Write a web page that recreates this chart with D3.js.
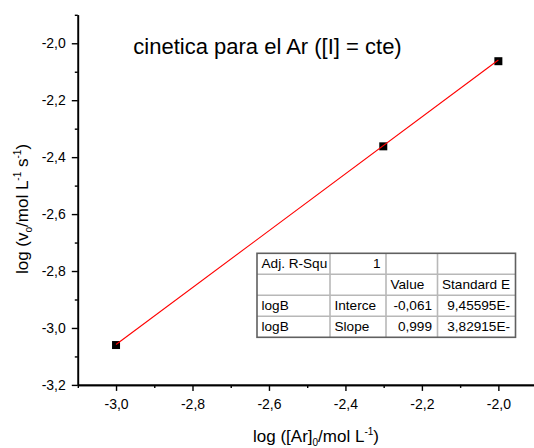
<!DOCTYPE html>
<html>
<head>
<meta charset="utf-8">
<script src="https://cdn.jsdelivr.net/npm/d3@7"></script>
<style>
  html, body { margin: 0; padding: 0; background: #fff; }
  svg { display: block; font-family: "Liberation Sans", Arial, sans-serif; }
</style>
</head>
<body>
<svg id="chart" width="534" height="448"></svg>
<script>
// measured points: log [Ar]0 vs log v0
const logAr = [-3.0, -2.301, -2.0];
const logV = [-3.06, -2.362, -2.063];

// linear fit drawn by Origin (start / end of the red line)
const fitX = [-3.0, -2.0];
const fitY = [-3.058, -2.059];

const xMajor = [-3.0, -2.8, -2.6, -2.4, -2.2, -2.0];
const xMinor = [-3.1, -2.9, -2.7, -2.5, -2.3, -2.1, -1.9];
const yMajor = [-3.2, -3.0, -2.8, -2.6, -2.4, -2.2, -2.0];
const yMinor = [-3.1, -2.9, -2.7, -2.5, -2.3, -2.1, -1.9];

// fit results table
const tableCols = [257, 330, 386, 437.5, 515.5];
const tableRows = [
  ['Adj. R-Squ', '1', '', ''],
  ['', '', 'Value', 'Standard E'],
  ['logB', 'Interce', '-0,061', '9,45595E-'],
  ['logB', 'Slope', '0,999', '3,82915E-']
];

const svg = d3.select('#chart');

const locale = d3.formatLocale({
  decimal: ',', thousands: '.', grouping: [3], currency: ['', ''], minus: '-'
});
const fmt = locale.format('.1f');

const x = d3.scaleLinear().domain([-3.1, -1.9]).range([77.8, 536.6]);
const y = d3.scaleLinear().domain([-3.2, -1.9]).range([384.9, 14.8]);

// axes
const xAxis = svg.append('g').attr('transform', 'translate(0,384.9)');
xAxis.call(d3.axisBottom(x).tickValues(xMajor).tickSize(6).tickSizeOuter(0)
  .tickPadding(8.5).tickFormat(fmt));
xAxis.call(g => g.append('g').call(d3.axisBottom(x).tickValues(xMinor)
  .tickSize(3).tickSizeOuter(0).tickFormat('')));

const yAxis = svg.append('g').attr('transform', 'translate(77.8,0)');
yAxis.call(d3.axisLeft(y).tickValues(yMajor).tickSize(6).tickSizeOuter(0)
  .tickPadding(6).tickFormat(fmt));
yAxis.call(g => g.append('g').call(d3.axisLeft(y).tickValues(yMinor)
  .tickSize(3).tickSizeOuter(0).tickFormat('')));

svg.selectAll('.domain').attr('stroke', '#000').attr('stroke-width', 1.6);
svg.selectAll('.tick line').attr('stroke', '#000').attr('stroke-width', 1.4);
svg.selectAll('.tick text')
  .attr('fill', '#000')
  .style('font-family', '"Liberation Sans", Arial, sans-serif')
  .style('font-size', '14px');

// data markers
svg.append('g').selectAll('rect')
  .data(logAr)
  .join('rect')
  .attr('x', (d) => x(d) - 4)
  .attr('y', (d, i) => y(logV[i]) - 4)
  .attr('width', 8)
  .attr('height', 8)
  .attr('fill', '#000');

// fit line
svg.append('path')
  .datum(fitX.map((d, i) => [d, fitY[i]]))
  .attr('fill', 'none')
  .attr('stroke', '#ff0000')
  .attr('stroke-width', 1.1)
  .attr('d', d3.line().x((d) => x(d[0])).y((d) => y(d[1])));

// title
svg.append('text')
  .attr('x', 267.5)
  .attr('y', 54.3)
  .attr('text-anchor', 'middle')
  .style('font-size', '22px')
  .text('cinetica para el Ar ([I] = cte)');

// axis titles
const xTitle = svg.append('text')
  .attr('x', 316)
  .attr('y', 442)
  .attr('text-anchor', 'middle')
  .style('font-size', '17px');
xTitle.append('tspan').text('log ([Ar]');
xTitle.append('tspan').attr('dy', 4).style('font-size', '10px').text('0');
xTitle.append('tspan').attr('dy', -4).text('/mol L');
xTitle.append('tspan').attr('dy', -7).style('font-size', '10px').text('-1');
xTitle.append('tspan').attr('dy', 7).text(')');

const yTitle = svg.append('text')
  .attr('transform', 'translate(28,209) rotate(-90)')
  .attr('text-anchor', 'middle')
  .style('font-size', '17px');
yTitle.append('tspan').text('log (v');
yTitle.append('tspan').attr('dy', 4).style('font-size', '10px').text('o');
yTitle.append('tspan').attr('dy', -4).text('/mol L');
yTitle.append('tspan').attr('dy', -7).style('font-size', '10px').text('-1');
yTitle.append('tspan').attr('dy', 7).text(' s');
yTitle.append('tspan').attr('dy', -7).style('font-size', '10px').text('-1');
yTitle.append('tspan').attr('dy', 7).text(')');

// results table
const rowY = d3.scaleBand().domain(d3.range(tableRows.length)).range([253.3, 337.3]);
const table = svg.append('g');
table.append('rect')
  .attr('x', tableCols[0]).attr('y', 253.3)
  .attr('width', tableCols[4] - tableCols[0]).attr('height', 84)
  .attr('fill', '#fff');
table.selectAll('line.h')
  .data(d3.range(1, tableRows.length))
  .join('line')
  .attr('x1', tableCols[0]).attr('x2', tableCols[4])
  .attr('y1', (d) => rowY(d)).attr('y2', (d) => rowY(d))
  .attr('stroke', '#b8b8b8').attr('stroke-width', 1.6);
table.selectAll('line.v')
  .data(tableCols.slice(1, 4))
  .join('line')
  .attr('x1', (d) => d).attr('x2', (d) => d)
  .attr('y1', 253.3).attr('y2', 337.3)
  .attr('stroke', '#b8b8b8').attr('stroke-width', 1.6);
table.append('rect')
  .attr('x', tableCols[0]).attr('y', 253.3)
  .attr('width', tableCols[4] - tableCols[0]).attr('height', 84)
  .attr('fill', 'none')
  .attr('stroke', '#606060').attr('stroke-width', 1.6);

tableRows.forEach((row, r) => {
  row.forEach((cell, c) => {
    if (!cell) return;
    const numeric = /^-?\d/.test(cell);
    table.append('text')
      .attr('x', numeric ? tableCols[c + 1] - 5.5 : tableCols[c] + 4.5)
      .attr('y', rowY(r) + 14.8)
      .attr('text-anchor', numeric ? 'end' : 'start')
      .style('font-size', '13.6px')
      .text(cell);
  });
});
</script>
</body>
</html>
